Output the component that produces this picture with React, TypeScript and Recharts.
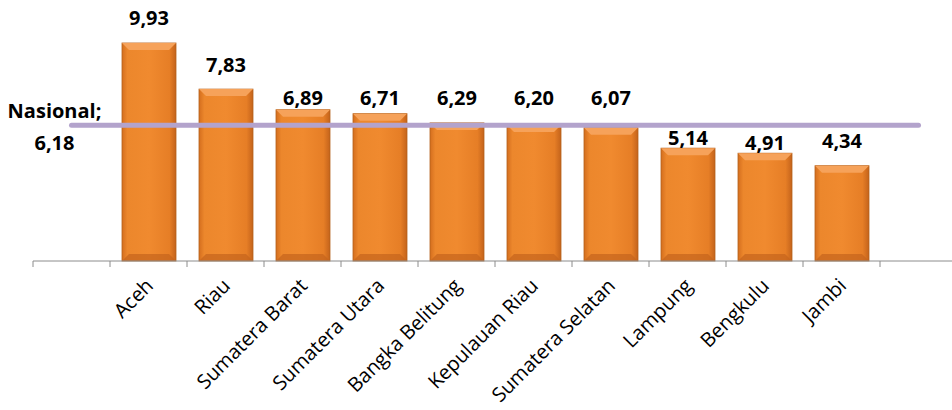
import React from 'react'
import { ComposedChart, Bar, Line, XAxis, YAxis, LabelList } from 'recharts'

const regions = [
  '',
  'Aceh',
  'Riau',
  'Sumatera Barat',
  'Sumatera Utara',
  'Bangka Belitung',
  'Kepulauan Riau',
  'Sumatera Selatan',
  'Lampung',
  'Bengkulu',
  'Jambi',
  ' ',
]
const growth: Array<number | null> = [null, 9.93, 7.83, 6.89, 6.71, 6.29, 6.2, 6.07, 5.14, 4.91, 4.34, null]
const nationalValue = 6.18
const nationalName = 'Nasional'

const data = regions.map((region, i) => ({ region, growth: growth[i], nasional: nationalValue }))

const CHART_W = 960
const CHART_H = 410
const MARGIN = { top: 19.5, right: 3, left: 33, bottom: 0 }
const BAND = (CHART_W - MARGIN.left - MARGIN.right) / regions.length
const FONT = '"Open Sans", "Liberation Sans", sans-serif'

const fmt = (v: number) => v.toFixed(2).replace('.', ',')

const BevelBar = (props: any) => {
  const { x, y, width, height } = props
  if (!height || height <= 0) return null
  const b = 7
  return (
    <g>
      <rect x={x} y={y} width={width} height={height} fill="url(#barFill)" stroke="#B5611D" strokeWidth={0.8} />
      <polygon
        points={`${x},${y} ${x + width},${y} ${x + width - b},${y + b} ${x + b},${y + b}`}
        fill="#F6A25A"
      />
      <polygon
        points={`${x},${y + height} ${x + width},${y + height} ${x + width - b},${y + height - b} ${x + b},${y + height - b}`}
        fill="#C4641C"
        opacity={0.7}
      />
    </g>
  )
}

const BarValueLabel = (props: any) => {
  const { x, y, width, height, value } = props
  if (value == null || !height) return null
  const base = y + height
  const lineY = base - (nationalValue * height) / value
  let cy = y - 25
  if (Math.abs(cy - lineY) < 12) cy = y - 11
  else if (cy > lineY - 45 && y <= lineY + 10) cy = lineY - 28
  return (
    <text x={x + width / 2} y={cy} textAnchor="middle" dominantBaseline="central" fontFamily={FONT} fontWeight={700} fontSize={20} fill="#000">
      {fmt(value)}
    </text>
  )
}

const NationalLabel = (props: any) => {
  const { x, y, index, value } = props
  if (index !== 0) return null
  const cx = x - 17
  return (
    <g fontFamily={FONT} fontWeight={700} fontSize={20} fill="#000" textAnchor="middle">
      <text x={cx} y={y - 15} dominantBaseline="central">{`${nationalName};`}</text>
      <text x={cx} y={y + 17} dominantBaseline="central">{fmt(value)}</text>
    </g>
  )
}

const RegionTick = (props: any) => {
  const { x, y, payload, index } = props
  const tickColor = '#8c8c8c'
  const ax = x + 6
  const ay = y + 26
  return (
    <g>
      <line x1={x - BAND / 2} x2={x - BAND / 2} y1={y} y2={y + 6} stroke={tickColor} />
      {index === regions.length - 1 && <line x1={x + BAND / 2} x2={x + BAND / 2} y1={y} y2={y + 6} stroke={tickColor} />}
      <text x={ax} y={ay} textAnchor="end" transform={`rotate(-45, ${ax}, ${ay})`} fontFamily={FONT} fontSize={20} fill="#000">
        {payload.value}
      </text>
    </g>
  )
}

export default function App() {
  return (
    <div style={{ position: 'absolute', left: 0, top: 0, width: 952, height: 410, overflow: 'hidden', background: '#fff' }}>
      <ComposedChart width={CHART_W} height={CHART_H} data={data} margin={MARGIN} barCategoryGap={23}>
        <defs>
          <linearGradient id="barFill" x1="0" y1="0" x2="1" y2="0">
            <stop offset="0%" stopColor="#D46E1E" />
            <stop offset="10%" stopColor="#EC872C" />
            <stop offset="50%" stopColor="#F08A2F" />
            <stop offset="88%" stopColor="#E67E26" />
            <stop offset="100%" stopColor="#C4631B" />
          </linearGradient>
        </defs>
        <XAxis
          dataKey="region"
          height={149}
          interval={0}
          tickLine={false}
          tickSize={0}
          tickMargin={0}
          axisLine={{ stroke: '#8c8c8c' }}
          tick={<RegionTick />}
        />
        <YAxis hide domain={[0, 11]} />
        <Bar dataKey="growth" barSize={54} shape={<BevelBar />} isAnimationActive={false}>
          <LabelList dataKey="growth" content={<BarValueLabel />} />
        </Bar>
        <Line
          dataKey="nasional"
          stroke="#B3A3CC"
          strokeWidth={5}
          strokeLinecap="round"
          dot={false}
          activeDot={false}
          isAnimationActive={false}
        >
          <LabelList dataKey="nasional" content={<NationalLabel />} />
        </Line>
      </ComposedChart>
    </div>
  )
}
